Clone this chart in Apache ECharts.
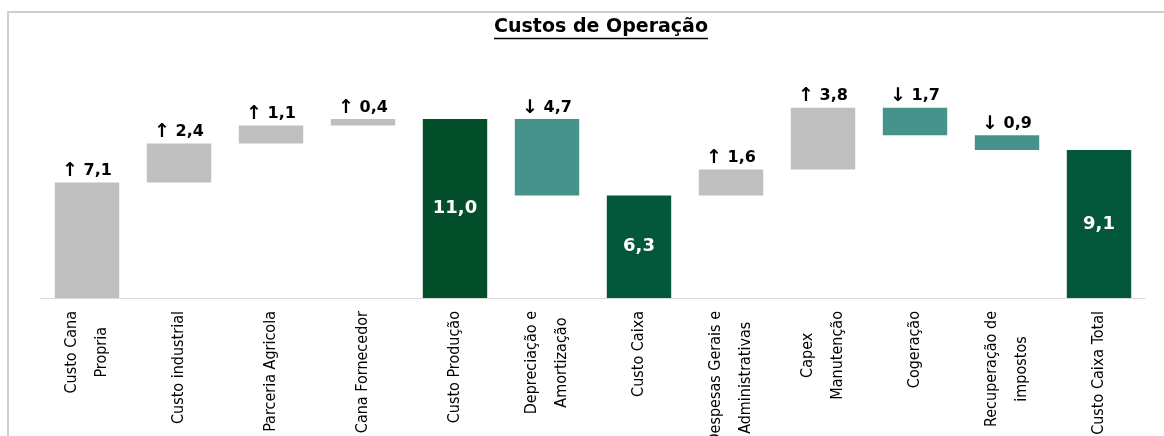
<!DOCTYPE html>
<html>
<head>
<meta charset="utf-8">
<script src="https://cdn.jsdelivr.net/npm/echarts@6/dist/echarts.min.js"></script>
<style>
  html, body { margin: 0; padding: 0; background: #fff; }
  #chart { width: 1164px; height: 436px; }
</style>
</head>
<body>
<div id="chart"></div>
<script>
// Waterfall of operating costs (R$/t)
const categories = [
  'Custo Cana\nPropria', 'Custo industrial', 'Parceria Agricola', 'Cana Fornecedor',
  'Custo Produção', 'Depreciação e\nAmortização', 'Custo Caixa',
  'Despesas Gerais e\nAdministrativas', 'Capex\nManutenção', 'Cogeração',
  'Recuperação de\nimpostos', 'Custo Caixa Total'
];
// signed steps; totals hold the running level
const values = [7.1, 2.4, 1.1, 0.4, 11.0, -4.7, 6.3, 1.6, 3.8, -1.7, -0.9, 9.1];
const kinds  = ['up', 'up', 'up', 'up', 'total', 'down', 'total', 'up', 'up', 'down', 'down', 'total'];

const colors = { up: '#BFBFBF', down: '#45938B', total: '#03573A' };
const firstTotalColor = '#034F2C';
const narrow = '"Liberation Sans Narrow", "DejaVu Sans Condensed", "Arial Narrow", sans-serif';

// floating base + visible height for each bar
const bases = [];
const heights = [];
let level = 0;
values.forEach((v, i) => {
  if (kinds[i] === 'total') {
    bases.push(0); heights.push(v); level = v;
  } else if (v >= 0) {
    bases.push(level); heights.push(v); level += v;
  } else {
    level += v; bases.push(level); heights.push(-v);
  }
});

const fmt = v => v.toFixed(1).replace('.', ',');

const stepRich = {
  a: { fontFamily: 'DejaVu Sans', fontWeight: 'bold', fontSize: 19, color: '#000' },
  n: { fontFamily: 'DejaVu Sans', fontWeight: 'bold', fontSize: 16, color: '#000' }
};

let totalSeen = 0;
const barData = heights.map((h, i) => {
  const k = kinds[i];
  let color = colors[k];
  if (k === 'total') { if (totalSeen === 0) color = firstTotalColor; totalSeen++; }
  const item = { value: h, itemStyle: { color: color } };
  if (k === 'total') {
    item.label = {
      show: true, position: 'inside', color: '#fff',
      fontFamily: 'DejaVu Sans', fontWeight: 'bold', fontSize: 18,
      formatter: () => fmt(values[i])
    };
  } else {
    item.label = {
      show: true, position: 'top', distance: 2, color: '#000',
      fontFamily: 'DejaVu Sans', fontWeight: 'bold', fontSize: 16,
      rich: stepRich,
      formatter: () => '{a|' + (k === 'up' ? '\u2191' : '\u2193') + '}{n| ' + fmt(Math.abs(values[i])) + '}'
    };
  }
  return item;
});

const chart = echarts.init(document.getElementById('chart'), null, { renderer: 'canvas' });

// title text width, for the underline
const titleText = 'Custos de Operação';
const titleFont = 'bold 19px "DejaVu Sans"';
const ctx = document.createElement('canvas').getContext('2d');
ctx.font = titleFont;
const titleW = ctx.measureText(titleText).width;
const titleCx = 601;

chart.setOption({
  animation: false,
  grid: { left: 41, right: 19, top: 54, bottom: 138, containLabel: false, outerBoundsMode: 'none' },
  graphic: [
    { type: 'rect', shape: { x: 8, y: 12, width: 1200, height: 500 },
      style: { fill: 'none', stroke: '#CFCFCF', lineWidth: 2 }, silent: true },
    { type: 'text', x: titleCx, y: 27,
      style: { text: titleText, font: titleFont, fill: '#000', align: 'center', verticalAlign: 'middle' } },
    { type: 'line', shape: { x1: titleCx - titleW / 2, y1: 38.5, x2: titleCx + titleW / 2, y2: 38.5 },
      style: { stroke: '#000', lineWidth: 1.5 } }
  ],
  xAxis: {
    type: 'category',
    data: categories,
    axisLine: { show: true, lineStyle: { color: '#D9D9D9', width: 1 } },
    axisTick: { show: false },
    axisLabel: {
      interval: 0, rotate: 90, margin: 13,
      color: '#000', fontFamily: narrow, fontSize: 16,
      lineHeight: 30,
      formatter: s => s.split('\n').map(t => '{c|' + t + '}').join('\n'),
      rich: {
        c: { align: 'center', color: '#000', fontFamily: narrow, fontSize: 16, lineHeight: 30 }
      }
    }
  },
  yAxis: { type: 'value', min: 0, max: 15, show: false, splitLine: { show: false } },
  series: [
    { type: 'bar', stack: 'w', data: bases, barWidth: '70%',
      itemStyle: { color: 'transparent' }, silent: true },
    { type: 'bar', stack: 'w', data: barData, barWidth: '70%' }
  ]
});
</script>
</body>
</html>
